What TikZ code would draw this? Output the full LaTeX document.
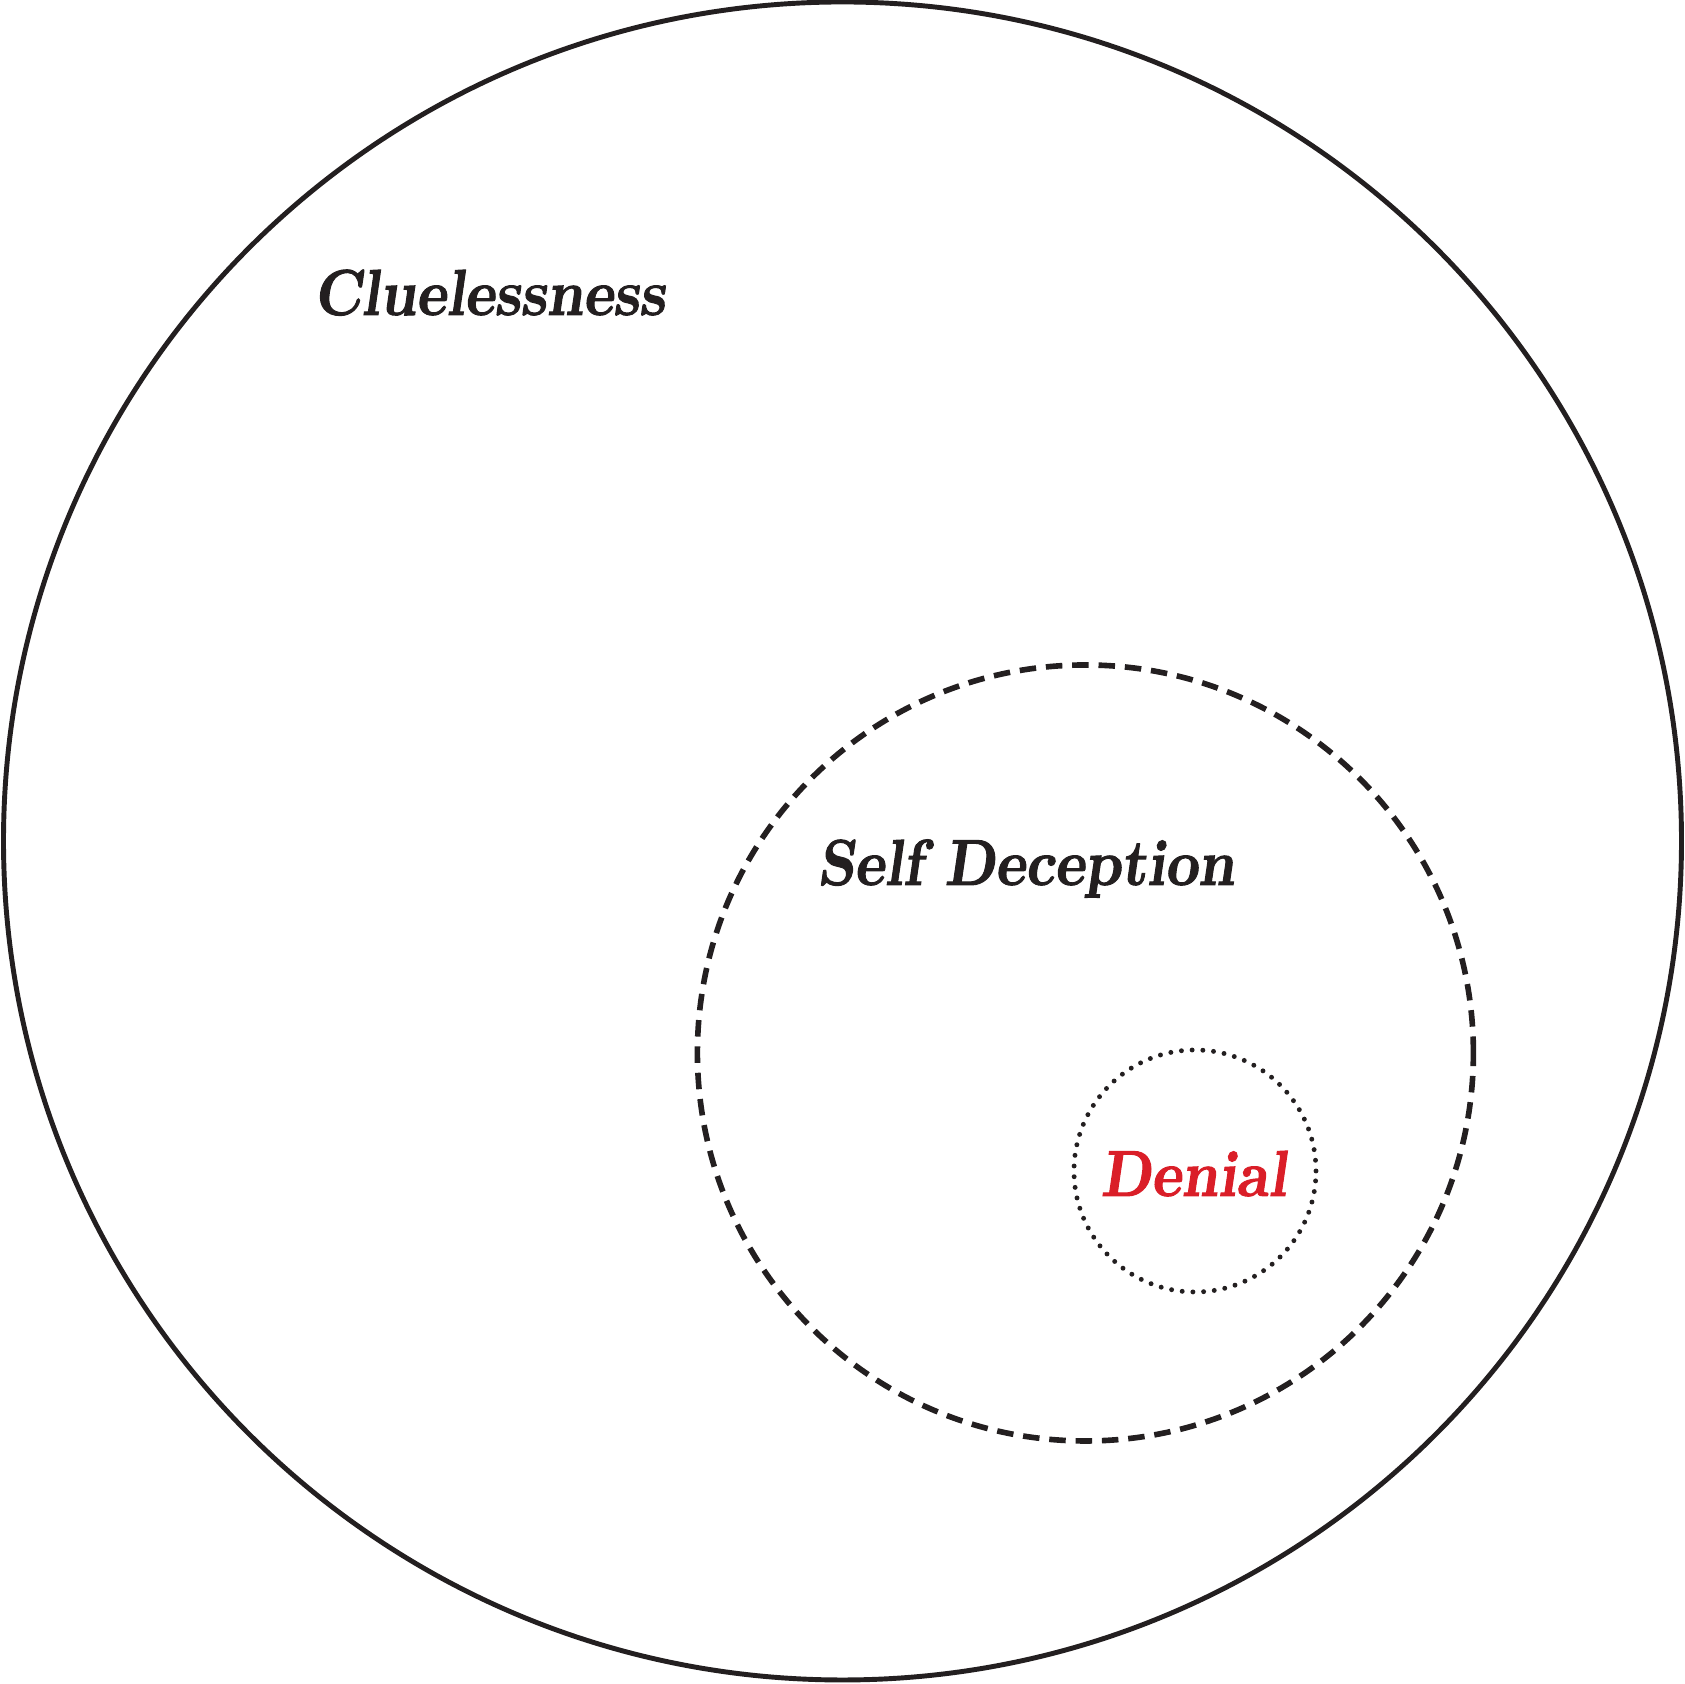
\documentclass[tikz,border=0pt]{standalone}
\usepackage{fontspec}
\newfontfamily\slantbold{lmromanslant10-bold}[Extension=.otf, FakeStretch=0.88, FakeBold=1.5]
\definecolor{ink}{RGB}{35,31,32}
\definecolor{denialred}{RGB}{218,30,40}
\begin{document}
\begin{tikzpicture}[
    label/.style={inner sep=0pt, anchor=base west, text=ink, font=\slantbold\fontsize{18.5}{22}\selectfont}
  ]
    \useasboundingbox (0,0) rectangle (16.85,16.84);

    \node[circle, draw=ink, line width=1.4pt, minimum size=16.78cm] (clue) at (8.425,8.43) {};
    \node[circle, draw=ink, line width=1.6pt, dash pattern=on 4.7pt off 2.8pt, minimum size=7.76cm] (self) at (10.854,6.31) {};
    \node[circle, draw=ink, line width=1.4pt, line cap=round, dash pattern=on 0pt off 3.05pt, minimum size=2.42cm] (den) at (11.95,5.13) {};

    \node[label] (cluetext) at (3.13,13.69) {Cluelessness};
    \node[label] (selftext) at (8.17,7.99) {Self Deception};
    \node[label, text=denialred] (dentext) at (11.00,4.88) {Denial};
\end{tikzpicture}
\end{document}
